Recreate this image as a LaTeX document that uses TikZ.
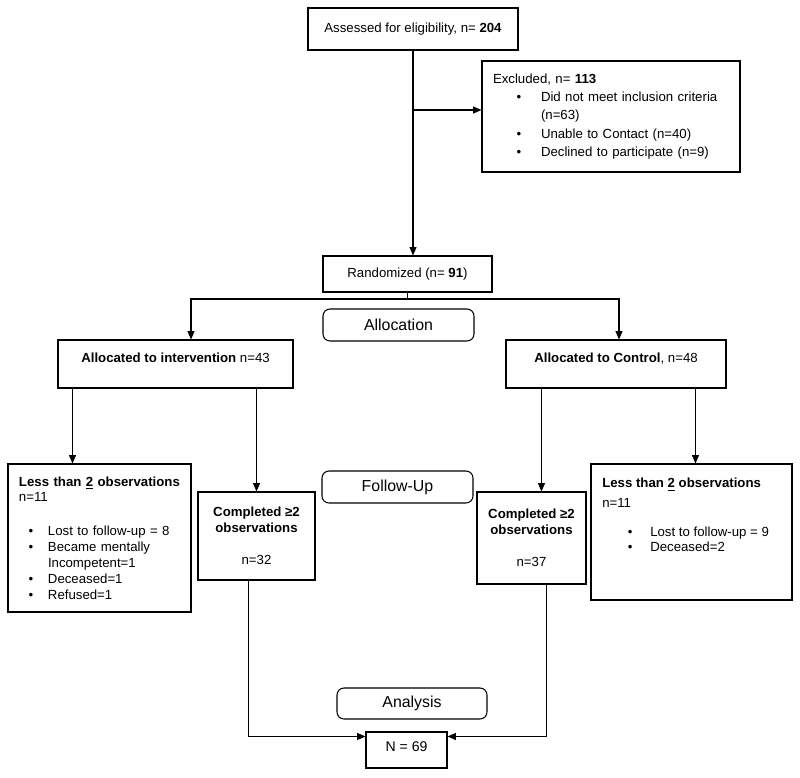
\documentclass[tikz,border=0pt]{standalone}
\usepackage{fontspec}
\setmainfont{Liberation Sans}
\usetikzlibrary{arrows.meta,calc}
\newlength\pxl
\setlength\pxl{0.025cm}
\newcommand\bitem[3]{\hspace*{#1\pxl}\makebox[0pt]{\textbullet}\hspace*{\dimexpr #2\pxl-#1\pxl\relax}#3}
\tikzset{
  bx/.style 2 args={draw, line width=0.75pt, inner sep=0pt, minimum width=#1\pxl, minimum height=#2\pxl},
  lbl/.style 2 args={bx={#1}{#2}, rounded corners=5pt, font=\fontsize{11.3}{13}\selectfont},
  arr/.style={line width=0.75pt, -{Triangle[length=6pt,width=5pt]}},
  ln/.style={line width=0.75pt},
  txt/.style={font=\fontsize{9.4}{11.3}\selectfont},
}
\begin{document}
\begin{tikzpicture}[x=0.025cm,y=-0.025cm]
\fill[white] (0,0) rectangle (800,777);
\useasboundingbox (0,0) rectangle (800,777);

% boxes
\node[bx={210}{42}, txt] (assess) at (413,29) {Assessed for eligibility, n= \textbf{204}};
\node[bx={258}{111}, font=\fontsize{9.4}{13}\selectfont, text width=236\pxl, align=left] (excl) at (611,116.5)
  {Excluded, n= \textbf{113}\\
   \bitem{26}{48}{Did not meet inclusion criteria}\\
   \hspace*{48\pxl}(n=63)\\
   \bitem{26}{48}{Unable to Contact (n=40)}\\
   \bitem{26}{48}{Declined to participate (n=9)}};
\node[bx={169}{36}, txt] (rand) at (407.5,274) {Randomized (n= \textbf{91})};
\node[lbl={151}{32}] (alloc) at (398.5,325) {Allocation};
\node[bx={235}{48}, txt, text height=7pt, text depth=8.9pt] (interv) at (175.5,364)
  {\textbf{Allocated to intervention} n=43};
\node[bx={220}{48}, txt, text height=7pt, text depth=8.9pt] (ctrl) at (616,364)
  {\textbf{Allocated to Control}, n=48};
\node[bx={183}{148}, txt, text width=161\pxl, align=left] (lessL) at (99.5,538)
  {\mbox{\textbf{Less than \underline{2} observations}}\\
   n=11\\[12.8pt]
   \bitem{12}{29}{Lost to follow-up = 8}\\
   \bitem{12}{29}{Became mentally}\\
   \hspace*{29\pxl}Incompetent=1\\
   \bitem{12}{29}{Deceased=1}\\
   \bitem{12}{29}{Refused=1}};
\node[bx={117}{88}, txt, align=center] (compL) at (256.5,536)
  {\textbf{Completed ≥2}\\ \textbf{observations}\\[11.3pt] n=32};
\node[lbl={151}{32}] (follow) at (397.5,487) {Follow-Up};
\node[bx={109}{92}, txt, align=center] (compR) at (531.5,538)
  {\textbf{Completed ≥2}\\ \textbf{observations}\\[11.3pt] n=37};
\node[bx={201}{136}] (lessR) at (691.5,532) {};
\node[anchor=north west, inner sep=0pt, align=left, font=\fontsize{9.4}{10.6}\selectfont] (lessRtxt) at (602,478)
  {\textbf{Less than \underline{2} observations}\\[3.6pt]
   n=11\\[10pt]
   \bitem{28}{48}{Lost to follow-up = 9}\\
   \bitem{28}{48}{Deceased=2}};
\node[lbl={150}{31}] (anal) at (412,703.5) {Analysis};
\node[bx={81}{36}, font=\fontsize{10}{12}\selectfont, text height=7pt, text depth=4.2pt] (N) at (406.5,750) {N = 69};

% connectors
\draw[arr] (assess.south) -- (assess.south |- rand.north);
\coordinate (exc) at (413,110);
\draw[arr] (exc) -- (exc -| excl.west);
\coordinate (split) at (407.5,299);
\draw[ln] (rand.south) -- (split);
\draw[arr] (split) -| ($(interv.north)+(15.5,0)$);
\draw[arr] (split) -| ($(ctrl.north)+(3,0)$);
\coordinate (iL) at ($(interv.south west)+(15,0)$);
\draw[arr] (iL) -- (iL |- lessL.north);
\draw[arr] (compL.north |- interv.south) -- (compL.north);
\coordinate (cL) at ($(ctrl.south west)+(36,0)$);
\draw[arr] (cL) -- (cL |- compR.north);
\coordinate (cR) at ($(ctrl.south west)+(190,0)$);
\draw[arr] (cR) -- (cR |- lessR.north);
\coordinate (bL) at ($(compL.south west)+(51,0)$);
\coordinate (nL) at ($(N.north west)+(0,5)$);
\draw[arr] (bL) |- (nL);
\coordinate (bR) at ($(compR.south west)+(70,0)$);
\coordinate (nR) at ($(N.north east)+(0,5)$);
\draw[arr] (bR) |- (nR);
\end{tikzpicture}
\end{document}
